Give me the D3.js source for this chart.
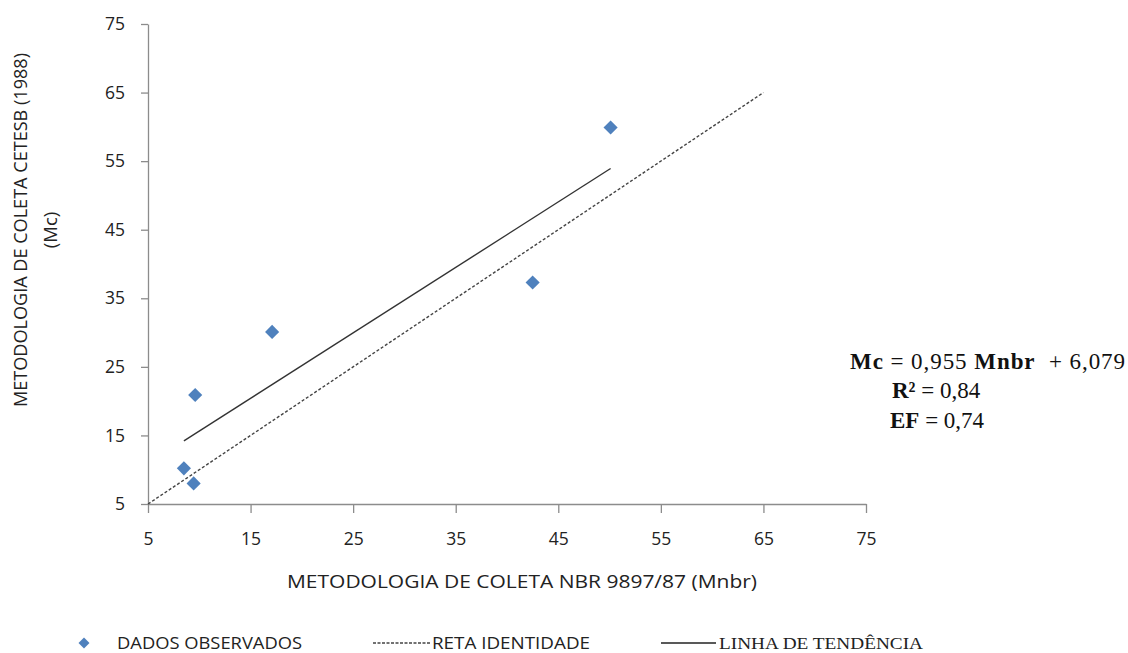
<!DOCTYPE html>
<html>
<head>
<meta charset="utf-8">
<script src="https://cdn.jsdelivr.net/npm/d3@7"></script>
<style>
  body { margin: 0; background: #fff; }
  svg { display: block; }
  .tick text { font-family: "Open Sans", sans-serif; font-size: 17.5px; fill: #222; }
  .axis path, .axis line { stroke: #8c8c8c; stroke-width: 1.3; }
</style>
</head>
<body>
<div class="chart"></div>
<script>
var width = 1128;
var height = 653;

// observed data (Mnbr, Mc)
var mnbr = [8.5, 9.45, 9.6, 17.1, 42.5, 50.1];
var mc = [10.2, 8.0, 20.9, 30.1, 37.3, 59.9];
var tickVals = [5, 15, 25, 35, 45, 55, 65, 75];
var identityX = [5, 65];
var slope = 0.955, intercept = 6.079;
var eqLines = [
  [["Mc", true], [" = 0,955 ", false], ["Mnbr", true], ["  + 6,079", false]],
  [["R²", true], [" = 0,84", false]],
  [["EF", true], [" = 0,74", false]]
];
var legendNames = ["DADOS OBSERVADOS", "RETA IDENTIDADE", "LINHA DE TENDÊNCIA"];

var x = d3.scaleLinear().domain([5, 75]).range([148, 866]);
var y = d3.scaleLinear().domain([5, 75]).range([504, 24]);

var svg = d3.select(".chart").append("svg")
    .attr("width", width)
    .attr("height", height);

// axes
svg.append("g")
    .attr("class", "axis")
    .attr("transform", "translate(0,504)")
    .call(d3.axisBottom(x).tickValues(tickVals).tickSize(9).tickPadding(20).tickSizeOuter(0));

svg.append("g")
    .attr("class", "axis")
    .attr("transform", "translate(148,0)")
    .call(d3.axisLeft(y).tickValues(tickVals).tickSize(7).tickPadding(16).tickSizeOuter(0));

// identity line
var line = d3.line().x(function(d) { return x(d[0]); }).y(function(d) { return y(d[1]); });
svg.append("path")
    .attr("d", line(identityX.map(function(v) { return [v, v]; })))
    .attr("stroke", "#444")
    .attr("stroke-width", 1.4)
    .attr("stroke-dasharray", "3,2")
    .attr("fill", "none");

// trend line over observed range
var xmin = d3.min(mnbr), xmax = d3.max(mnbr);
svg.append("path")
    .attr("d", line([[xmin, slope * xmin + intercept], [xmax, slope * xmax + intercept]]))
    .attr("stroke", "#333")
    .attr("stroke-width", 1.4)
    .attr("fill", "none");

// points
var diamond = d3.symbol().type(d3.symbolSquare).size(100);
svg.selectAll(".pt")
    .data(mnbr)
    .enter()
    .append("path")
    .attr("class", "pt")
    .attr("d", diamond)
    .attr("transform", function(d, i) { return "translate(" + x(d) + "," + y(mc[i]) + ") rotate(45)"; })
    .attr("fill", "#4f81bd");

// axis titles
svg.append("text")
    .attr("x", 287)
    .attr("y", 588)
    .attr("textLength", 470)
    .attr("lengthAdjust", "spacingAndGlyphs")
    .style("font-family", "'Open Sans', sans-serif")
    .style("font-size", "18.5px")
    .attr("fill", "#222")
    .text("METODOLOGIA DE COLETA NBR 9897/87  (Mnbr)");

var yt = svg.append("g").attr("transform", "translate(0,230) rotate(-90)");
yt.append("text")
    .attr("x", -177).attr("y", 27)
    .attr("textLength", 354)
    .attr("lengthAdjust", "spacingAndGlyphs")
    .style("font-family", "'Open Sans', sans-serif")
    .style("font-size", "18.5px")
    .attr("fill", "#222")
    .text("METODOLOGIA DE COLETA CETESB (1988)");
yt.append("text")
    .attr("x", 0).attr("y", 57)
    .attr("text-anchor", "middle")
    .style("font-family", "'Open Sans', sans-serif")
    .style("font-size", "18.5px")
    .attr("fill", "#222")
    .text("(Mc)");

// regression equation
var eqPos = [[850, 369], [892, 398], [890, 428]];
eqLines.forEach(function(parts, i) {
  var t = svg.append("text")
      .attr("x", eqPos[i][0])
      .attr("y", eqPos[i][1])
      .style("font-family", "'Liberation Serif', serif")
      .style("font-size", "23px")
      .style("white-space", "pre")
      .attr("fill", "#111");
  if (i === 0) t.attr("textLength", 275).attr("lengthAdjust", "spacing");
  parts.forEach(function(p) {
    t.append("tspan").attr("font-weight", p[1] ? "bold" : "normal").text(p[0]);
  });
});

// legend
var lg = svg.append("g");
lg.append("path")
    .attr("d", d3.symbol().type(d3.symbolSquare).size(60))
    .attr("transform", "translate(84,643) rotate(45)")
    .attr("fill", "#4f81bd");
lg.append("text").attr("x", 117).attr("y", 649).text(legendNames[0])
    .style("font-family", "'Open Sans', sans-serif").style("font-size", "16px").attr("fill", "#222")
    .attr("textLength", 185).attr("lengthAdjust", "spacingAndGlyphs");
lg.append("line").attr("x1", 373).attr("x2", 430).attr("y1", 643).attr("y2", 643)
    .attr("stroke", "#444").attr("stroke-width", 1.3).attr("stroke-dasharray", "3,1.5");
lg.append("text").attr("x", 432).attr("y", 649).text(legendNames[1])
    .style("font-family", "'Open Sans', sans-serif").style("font-size", "16px").attr("fill", "#222")
    .attr("textLength", 158).attr("lengthAdjust", "spacingAndGlyphs");
lg.append("line").attr("x1", 661).attr("x2", 716).attr("y1", 643).attr("y2", 643)
    .attr("stroke", "#222").attr("stroke-width", 1.3);
lg.append("text").attr("x", 719).attr("y", 649).text(legendNames[2])
    .style("font-family", "'Liberation Serif', serif").style("font-size", "17px").attr("fill", "#222")
    .attr("textLength", 204).attr("lengthAdjust", "spacingAndGlyphs");
</script>
</body>
</html>
